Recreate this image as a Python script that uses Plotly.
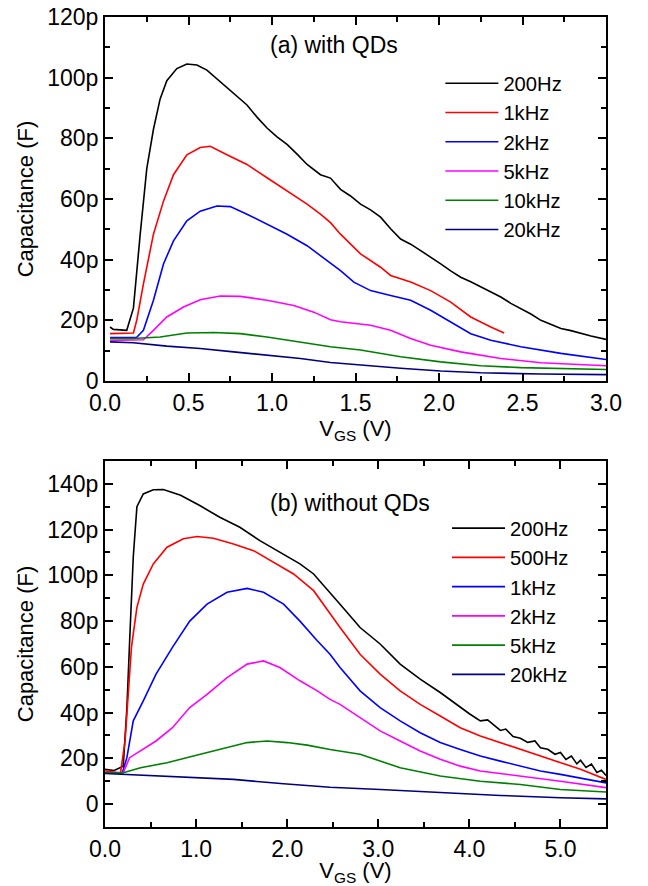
import plotly.graph_objects as go

# ---- panel (a): with QDs, V_GS in V, capacitance in pF ----
a_200hz_x = [0.03, 0.05, 0.13, 0.17, 0.21, 0.25, 0.29, 0.33, 0.37, 0.43, 0.49, 0.55, 0.61, 0.67, 0.73, 0.79,
             0.85, 0.91, 0.97, 1.03, 1.09, 1.15, 1.21, 1.29, 1.35, 1.41, 1.47, 1.53, 1.59, 1.65, 1.71, 1.77,
             1.83, 1.89, 1.95, 2.01, 2.07, 2.13, 2.19, 2.25, 2.31, 2.37, 2.43, 2.49, 2.55, 2.61, 2.67, 2.73,
             2.79, 2.85, 2.91, 3.0]
a_200hz_y = [17.8, 17.0, 16.7, 24.0, 48.0, 70.0, 83.0, 93.0, 99.0, 103.0, 104.5, 104.2, 102.5, 99.6, 96.5, 93.9,
             91.0, 87.0, 83.4, 80.5, 78.0, 74.8, 71.4, 68.0, 66.9, 63.2, 61.0, 58.3, 56.4, 54.0, 50.2, 46.8,
             45.1, 43.0, 40.9, 38.6, 36.3, 34.2, 32.7, 31.0, 29.5, 27.7, 25.6, 23.8, 22.1, 20.0, 18.7, 17.3,
             16.6, 15.6, 14.8, 13.7]
a_1khz_x = [0.03, 0.10, 0.17, 0.19, 0.23, 0.29, 0.35, 0.41, 0.49, 0.57, 0.63, 0.73, 0.85, 0.97, 1.09, 1.21,
            1.29, 1.35, 1.41, 1.53, 1.65, 1.71, 1.83, 1.95, 2.07, 2.19, 2.31, 2.39]
a_1khz_y = [15.6, 15.6, 15.8, 20.0, 32.0, 48.4, 59.3, 68.0, 74.6, 77.0, 77.4, 74.6, 71.4, 67.0, 62.6, 58.3,
            55.0, 52.2, 48.4, 41.9, 37.5, 34.8, 32.6, 29.8, 26.0, 21.1, 17.8, 15.8]
a_2khz_x = [0.03, 0.12, 0.19, 0.23, 0.29, 0.35, 0.41, 0.49, 0.57, 0.67, 0.75, 0.85, 0.97, 1.09, 1.21, 1.29,
            1.35, 1.41, 1.49, 1.59, 1.71, 1.83, 1.95, 2.07, 2.19, 2.31, 2.49, 2.73, 3.0]
a_2khz_y = [14.3, 14.3, 14.4, 16.7, 26.6, 38.6, 46.2, 52.8, 56.0, 57.7, 57.5, 55.0, 51.7, 48.4, 44.6, 41.3,
            38.6, 36.4, 32.6, 29.8, 28.2, 26.6, 23.3, 19.5, 15.6, 13.4, 11.3, 9.1, 7.1]
a_5khz_x = [0.03, 0.15, 0.23, 0.29, 0.37, 0.47, 0.57, 0.69, 0.81, 0.97, 1.13, 1.25, 1.35, 1.41, 1.59, 1.71,
            1.83, 1.95, 2.13, 2.37, 2.61, 3.0]
a_5khz_y = [13.4, 13.4, 13.6, 16.7, 21.1, 24.4, 26.8, 28.0, 27.9, 26.6, 24.9, 22.7, 20.2, 19.5, 18.4, 16.7,
            14.0, 11.8, 9.6, 7.4, 6.0, 5.0]
a_10khz_x = [0.03, 0.17, 0.33, 0.49, 0.65, 0.81, 0.97, 1.17, 1.35, 1.53, 1.77, 2.01, 2.25, 2.49, 3.0]
a_10khz_y = [14.0, 14.0, 14.5, 15.8, 16.0, 15.6, 14.5, 12.9, 11.3, 10.2, 8.0, 6.3, 5.0, 4.4, 3.8]
a_20khz_x = [0.03, 0.17, 0.37, 0.57, 0.77, 0.97, 1.17, 1.35, 1.53, 1.77, 2.01, 2.25, 2.61, 3.0]
a_20khz_y = [12.9, 12.6, 11.5, 10.7, 9.6, 8.5, 7.4, 6.1, 5.2, 4.2, 3.3, 2.7, 2.3, 2.1]

# ---- panel (b): without QDs ----
b_200hz_x = [0.0, 0.1, 0.2, 0.24, 0.27, 0.31, 0.35, 0.42, 0.53, 0.64, 0.83, 1.04, 1.26, 1.48, 1.70, 1.92,
             2.14, 2.29, 2.47, 2.58, 2.80, 3.02, 3.24, 3.46, 3.68, 3.90, 4.00, 4.12, 4.20, 4.34, 4.40,
             4.48, 4.56, 4.64, 4.72, 4.78, 4.86, 4.94, 5.00, 5.06, 5.12, 5.18, 5.22, 5.28, 5.34, 5.40,
             5.45, 5.5]
b_200hz_y = [15.2, 14.7, 16.6, 42.0, 71.0, 108.0, 130.0, 135.6, 137.4, 137.5, 135.0, 130.5, 125.4, 121.0, 115.2, 110.0,
             105.0, 100.6, 92.6, 87.4, 77.2, 70.0, 61.2, 54.6, 48.8, 42.2, 39.5, 36.4, 36.8, 32.2, 32.8,
             29.5, 28.8, 27.0, 27.6, 24.6, 24.0, 21.8, 22.6, 19.5, 21.0, 17.6, 19.2, 16.0, 17.5, 13.8,
             14.8, 12.5]
b_500hz_x = [0.0, 0.17, 0.22, 0.26, 0.29, 0.35, 0.42, 0.53, 0.68, 0.86, 1.01, 1.19, 1.41, 1.63, 1.85, 2.07,
             2.29, 2.47, 2.58, 2.80, 3.02, 3.24, 3.46, 3.68, 3.90, 4.12, 4.34, 4.56, 4.78, 5.00, 5.22, 5.5]
b_500hz_y = [14.5, 13.7, 27.6, 49.5, 68.5, 86.0, 96.2, 105.0, 112.3, 116.0, 117.0, 116.2, 113.7, 110.8, 105.7, 100.6,
             93.3, 83.0, 77.2, 65.5, 56.8, 49.5, 43.6, 38.5, 33.4, 29.8, 26.9, 23.9, 21.0, 18.1, 15.2, 10.8]
b_1khz_x = [0.0, 0.19, 0.24, 0.31, 0.42, 0.56, 0.74, 0.93, 1.12, 1.34, 1.56, 1.74, 1.96, 2.14, 2.33, 2.47,
            2.58, 2.80, 3.02, 3.24, 3.46, 3.68, 3.90, 4.12, 4.34, 4.56, 4.78, 5.00, 5.22, 5.5]
b_1khz_y = [13.7, 13.7, 20.3, 36.4, 45.1, 56.8, 68.5, 80.0, 87.4, 92.6, 94.3, 92.6, 87.4, 80.0, 71.4, 65.5,
            59.7, 49.5, 42.2, 36.4, 31.2, 26.9, 23.9, 21.0, 18.8, 16.6, 14.5, 13.0, 11.5, 9.3]
b_2khz_x = [0.0, 0.2, 0.27, 0.39, 0.56, 0.74, 0.93, 1.12, 1.34, 1.56, 1.74, 1.92, 2.14, 2.33, 2.47, 2.58,
            2.80, 3.02, 3.24, 3.46, 3.68, 3.90, 4.12, 4.56, 5.00, 5.5]
b_2khz_y = [13.7, 13.7, 20.3, 23.2, 27.6, 33.4, 42.2, 48.0, 55.3, 61.2, 62.6, 59.7, 53.9, 49.5, 45.8, 43.6,
            37.8, 32.0, 27.6, 23.2, 19.6, 16.6, 14.5, 12.3, 10.0, 7.2]
b_5khz_x = [0.0, 0.2, 0.39, 0.68, 0.97, 1.26, 1.56, 1.78, 2.0, 2.22, 2.47, 2.80, 3.24, 3.68, 4.12, 4.56, 5.0, 5.5]
b_5khz_y = [13.7, 13.7, 15.9, 18.1, 21.0, 23.9, 26.9, 27.6, 26.9, 25.8, 23.9, 21.8, 15.9, 12.3, 10.0, 8.6, 6.4, 5.3]
b_20khz_x = [0.0, 0.68, 1.41, 1.96, 2.47, 3.02, 3.68, 4.34, 5.0, 5.5]
b_20khz_y = [13.4, 12.3, 10.8, 8.9, 7.4, 6.4, 5.0, 3.8, 2.8, 2.3]

colors = ["#000000", "#ff0000", "#0000ff", "#ff00ff", "#008000", "#000080"]
a_names = ["200Hz", "1kHz", "2kHz", "5kHz", "10kHz", "20kHz"]
b_names = ["200Hz", "500Hz", "1kHz", "2kHz", "5kHz", "20kHz"]
a_series = [(a_200hz_x, a_200hz_y), (a_1khz_x, a_1khz_y), (a_2khz_x, a_2khz_y),
            (a_5khz_x, a_5khz_y), (a_10khz_x, a_10khz_y), (a_20khz_x, a_20khz_y)]
b_series = [(b_200hz_x, b_200hz_y), (b_500hz_x, b_500hz_y), (b_1khz_x, b_1khz_y),
            (b_2khz_x, b_2khz_y), (b_5khz_x, b_5khz_y), (b_20khz_x, b_20khz_y)]

a_ytick_vals = [0, 20, 40, 60, 80, 100, 120]
a_ytick_text = ["0", "20p", "40p", "60p", "80p", "100p", "120p"]
b_ytick_vals = [0, 20, 40, 60, 80, 100, 120, 140]
b_ytick_text = ["0", "20p", "40p", "60p", "80p", "100p", "120p", "140p"]

FONT = "Arial, Liberation Sans, sans-serif"

fig = go.Figure()
for (x, y), name, c in zip(a_series, a_names, colors):
    fig.add_trace(go.Scatter(x=x, y=y, mode="lines", name=name, line=dict(color=c, width=1.6),
                             xaxis="x", yaxis="y", legend="legend"))
for (x, y), name, c in zip(b_series, b_names, colors):
    fig.add_trace(go.Scatter(x=x, y=y, mode="lines", name=name, line=dict(color=c, width=1.6),
                             xaxis="x2", yaxis="y2", legend="legend2"))

minor_ticks = dict(ticks="inside", ticklen=5, tickwidth=2, tickcolor="black")
axis_common = dict(
    showline=True, linecolor="black", linewidth=2, mirror="ticks",
    ticks="inside", ticklen=8, tickwidth=2, tickcolor="black",
    showgrid=False, zeroline=False, automargin=False, ticklabeloverflow="allow",
    tickfont=dict(size=23, color="black", family=FONT),
    title_font=dict(size=22, color="black", family=FONT),
)
legend_font = dict(size=20.2, family=FONT, color="black")
# page body keeps its default 8px margin, so the figure is 8px smaller than the window
fig.update_layout(
    width=640, height=878,
    margin=dict(l=0, r=0, t=0, b=0, autoexpand=False),
    paper_bgcolor="white", plot_bgcolor="white",
    font=dict(family=FONT, color="black"),
    xaxis=dict(domain=[0.1516, 0.9344], anchor="y", range=[0, 3.0], dtick=0.5, tickformat=".1f",
               minor=dict(dtick=0.25, **minor_ticks),
               title=dict(text="V<sub>GS</sub> (V)", standoff=6), **axis_common),
    yaxis=dict(domain=[0.5752, 0.9897], anchor="x", range=[0, 120],
               tickvals=a_ytick_vals, ticktext=a_ytick_text,
               minor=dict(dtick=10, **minor_ticks),
               title=dict(text="Capacitance (F)", standoff=8), **axis_common),
    xaxis2=dict(domain=[0.1516, 0.9344], anchor="y2", range=[0, 5.5], dtick=1.0, tickformat=".1f",
                minor=dict(dtick=0.5, **minor_ticks),
                title=dict(text="V<sub>GS</sub> (V)", standoff=6), **axis_common),
    yaxis2=dict(domain=[0.0672, 0.4841], anchor="x2", range=[-10, 150],
                tickvals=b_ytick_vals, ticktext=b_ytick_text,
                minor=dict(dtick=10, **minor_ticks),
                title=dict(text="Capacitance (F)", standoff=8), **axis_common),
    legend=dict(x=0.6756, y=0.9367, xanchor="left", yanchor="top", bgcolor="rgba(0,0,0,0)",
                font=legend_font, itemwidth=53, tracegroupgap=0),
    legend2=dict(x=0.686, y=0.4300, xanchor="left", yanchor="top", bgcolor="rgba(0,0,0,0)",
                 font=legend_font, itemwidth=53, tracegroupgap=0),
    showlegend=True,
    annotations=[
        dict(text="(a) with QDs", x=0.509, y=0.9579, xref="paper", yref="paper", showarrow=False,
             xanchor="center", yanchor="middle", font=dict(size=23, family=FONT, color="black")),
        dict(text="(b) without QDs", x=0.5344, y=0.4362, xref="paper", yref="paper", showarrow=False,
             xanchor="center", yanchor="middle", font=dict(size=23, family=FONT, color="black")),
    ],
)

fig.write_html("out.html")
